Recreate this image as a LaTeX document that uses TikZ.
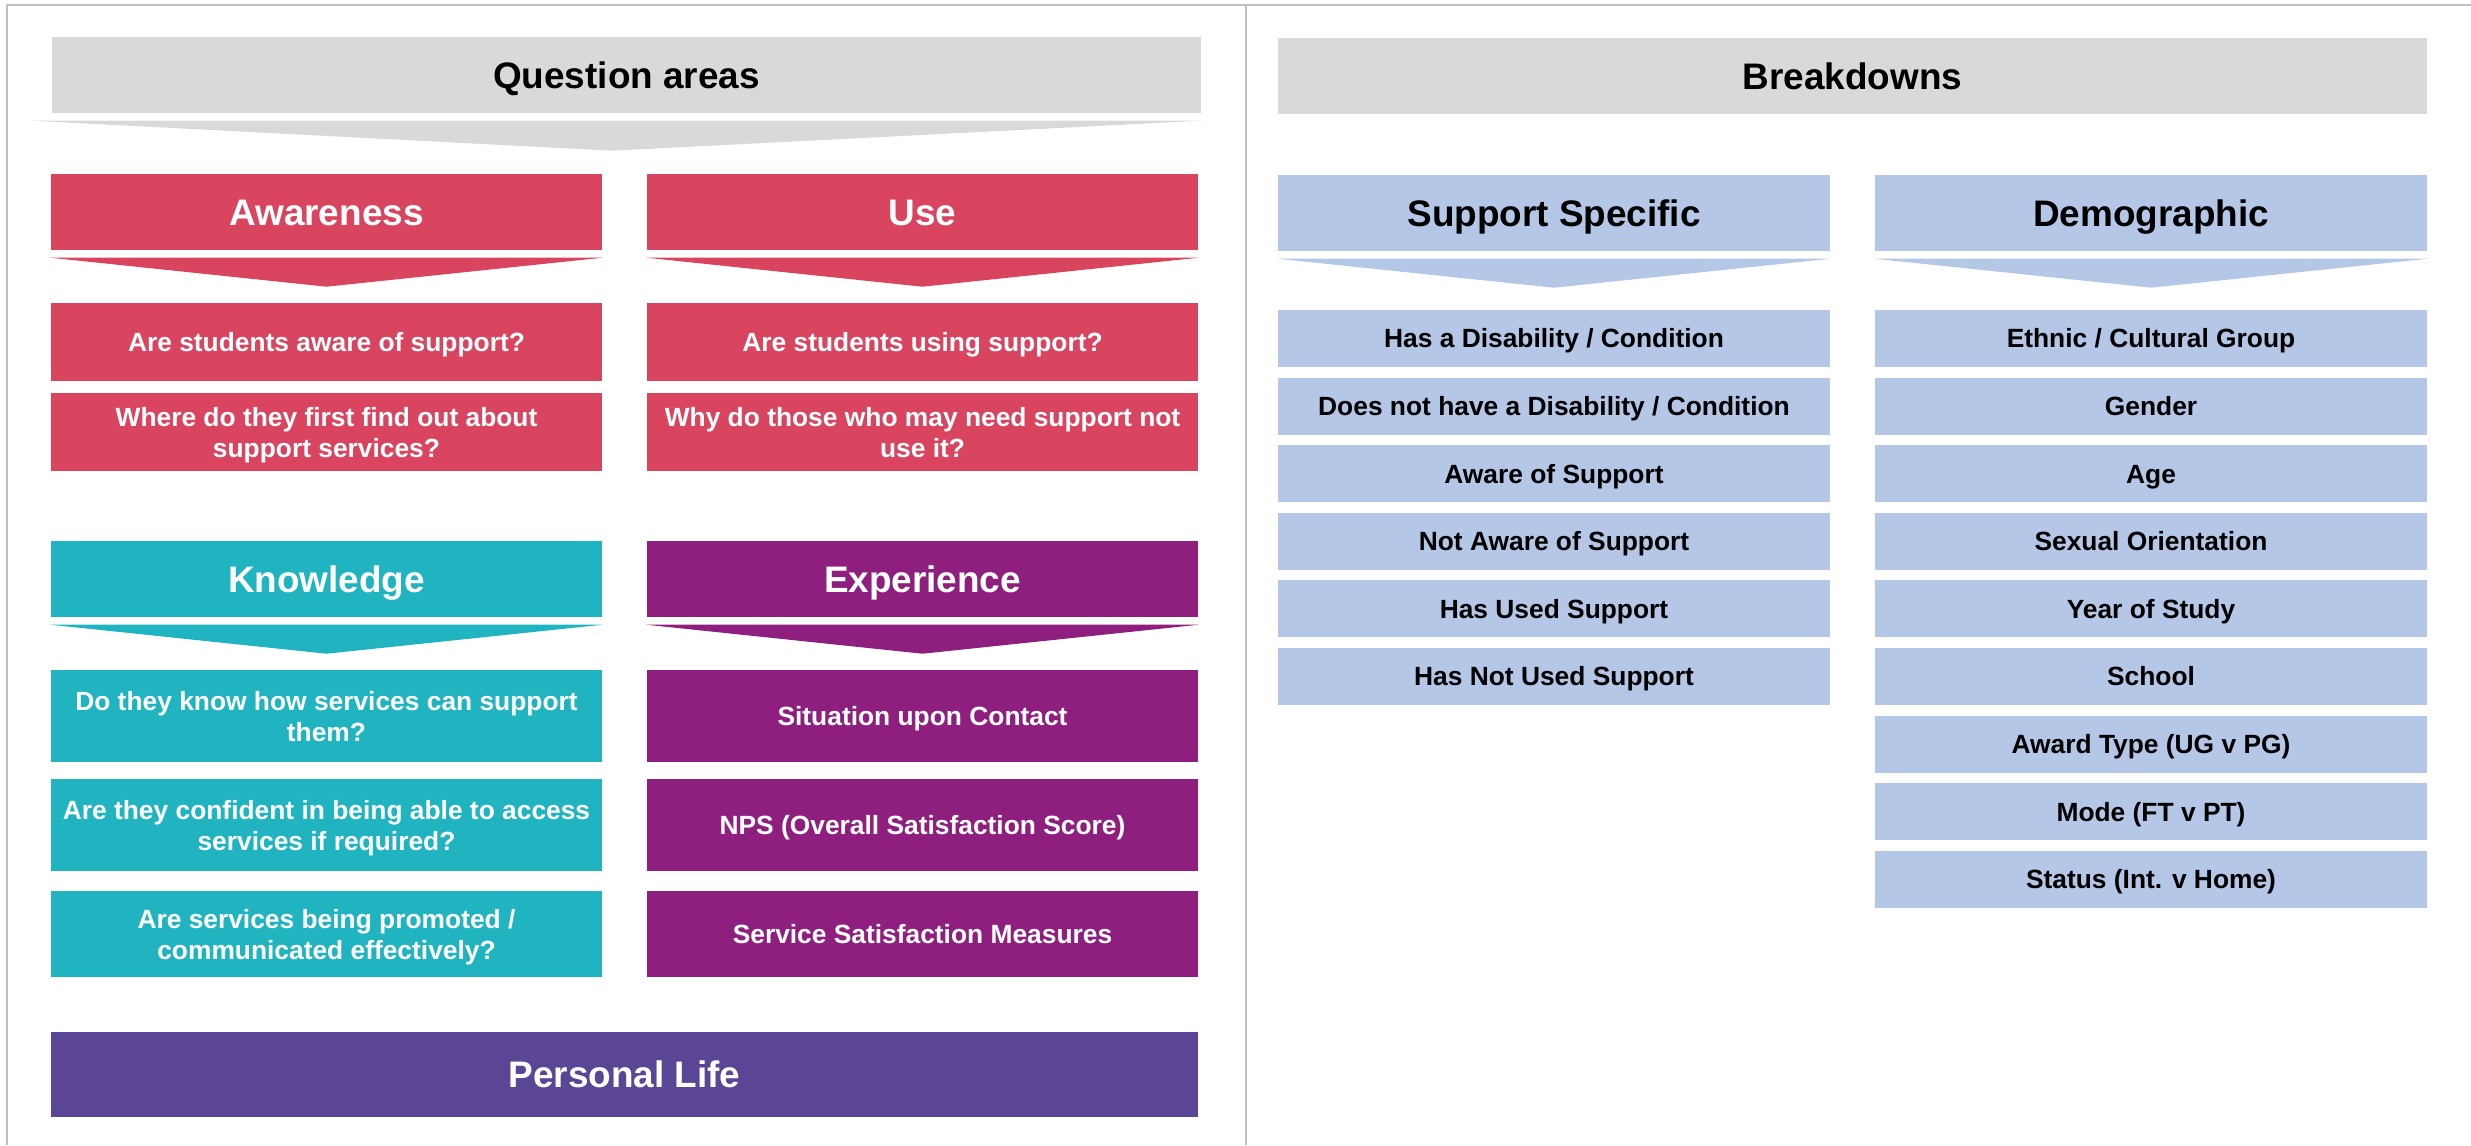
\documentclass[tikz,border=0pt]{standalone}
\usepackage{fontspec}
\setmainfont{Liberation Sans}
\usepackage{tikz}
\usetikzlibrary{
    calc
}
\usepackage{xcolor}
\definecolor{panelgray}{RGB}{217,217,217}
\definecolor{framegray}{RGB}{192,192,192}
\definecolor{awarered}{RGB}{217,68,94}
\definecolor{knowteal}{RGB}{31,180,192}
\definecolor{experpurple}{RGB}{143,31,126}
\definecolor{lifeviolet}{RGB}{91,70,150}
\definecolor{breakblue}{RGB}{180,199,231}
\tikzstyle{titlebar} = [
    rectangle,
    fill=panelgray,
    minimum width=11.49cm,
    minimum height=0.76cm,
    inner sep=0pt,
    text height=9.5pt,
    text depth=2pt,
    font=\fontsize{10.5}{12}\selectfont\bfseries
]
\tikzstyle{areahead} = [
    rectangle,
    minimum width=5.51cm,
    minimum height=0.76cm,
    inner sep=0pt,
    text height=9.5pt,
    text depth=2pt,
    text=white,
    font=\fontsize{10.5}{12}\selectfont\bfseries
]
\tikzstyle{question} = [
    rectangle,
    minimum width=5.51cm,
    inner sep=0pt,
    text depth=0pt,
    text=white,
    align=center,
    font=\fontsize{7.5}{8.8}\selectfont\bfseries
]
\tikzstyle{breakrow} = [
    rectangle,
    fill=breakblue,
    minimum width=5.52cm,
    minimum height=0.57cm,
    inner sep=0pt,
    text height=6.85pt,
    text depth=1.5pt,
    font=\fontsize{7.5}{8.8}\selectfont\bfseries
]

\begin{document}
\begin{tikzpicture}
        \useasboundingbox (0,0) rectangle (24.71,-11.45);

        % Frame and divider
        \draw[framegray, line width=0.6pt] (0.07,-11.45) -- (0.07,-0.05) -- (24.71,-0.05);
        \draw[framegray, line width=0.6pt] (12.46,-0.05) -- (12.46,-11.45);

        % Question areas
        \node[titlebar] (qa) at (6.265,-0.75) {Question areas};
        \fill[panelgray] ($(qa.south west)+(-0.2,-0.07)$) -- ($(qa.south east)+(0,-0.07)$)
            -- ($(qa.south)+(-0.14,-0.37)$) -- cycle;

        \node[areahead, fill=awarered] (aw) at (3.265,-2.12) {Awareness};
        \node[areahead, fill=awarered] (use) at (9.225,-2.12) {Use};
        \node[question, fill=awarered, minimum height=0.78cm] (aw1) at (3.265,-3.42) {Are students aware of support?};
        \node[question, fill=awarered, minimum height=0.78cm] (aw2) at (3.265,-4.32) {Where do they first find out about\\support services?};
        \node[question, fill=awarered, minimum height=0.78cm] (use1) at (9.225,-3.42) {Are students using support?};
        \node[question, fill=awarered, minimum height=0.78cm] (use2) at (9.225,-4.32) {Why do those who may need support not\\use it?};

        \node[areahead, fill=knowteal] (kn) at (3.265,-5.79) {Knowledge};
        \node[areahead, fill=experpurple] (ex) at (9.225,-5.79) {Experience};
        \node[question, fill=knowteal, minimum height=0.92cm] (kn1) at (3.265,-7.16) {Do they know how services can support\\them?};
        \node[question, fill=knowteal, minimum height=0.92cm] (kn2) at (3.265,-8.25) {Are they confident in being able to access\\services if required?};
        \node[question, fill=knowteal, minimum height=0.86cm] (kn3) at (3.265,-9.34) {Are services being promoted /\\communicated effectively?};
        \node[question, fill=experpurple, minimum height=0.92cm] (ex1) at (9.225,-7.16) {Situation upon Contact};
        \node[question, fill=experpurple, minimum height=0.92cm] (ex2) at (9.225,-8.25) {NPS (Overall Satisfaction Score)};
        \node[question, fill=experpurple, minimum height=0.86cm] (ex3) at (9.225,-9.34) {Service Satisfaction Measures};

        \node[areahead, fill=lifeviolet, minimum width=11.47cm, minimum height=0.85cm] (life) at (6.245,-10.745) {Personal Life};

        % Breakdowns
        \node[titlebar] (bd) at (18.525,-0.76) {Breakdowns};
        \node[areahead, fill=breakblue, text=black, minimum width=5.52cm] (ss) at (15.54,-2.13) {Support Specific};
        \node[areahead, fill=breakblue, text=black, minimum width=5.52cm] (dm) at (21.51,-2.13) {Demographic};

        \foreach \txt [count=\i from 0] in {Has a Disability / Condition, Does not have a Disability / Condition,
            Aware of Support, Not Aware of Support, Has Used Support, Has Not Used Support}
            \node[breakrow] (ss\i) at (15.54,{-3.385-0.676*\i}) {\txt};
        \foreach \txt [count=\i from 0] in {Ethnic / Cultural Group, Gender, Age, Sexual Orientation, Year of Study,
            School, Award Type (UG v PG), Mode (FT v PT), Status (Int. v Home)}
            \node[breakrow] (dm\i) at (21.51,{-3.385-0.676*\i}) {\txt};

        % Chevrons under the headings
        \foreach \n/\c in {aw/awarered, use/awarered, kn/knowteal, ex/experpurple, ss/breakblue, dm/breakblue}
            \fill[\c] ($(\n.south west)+(0,-0.07)$) -- ($(\n.south east)+(0,-0.07)$)
                -- ($(\n.south)+(0,-0.36)$) -- cycle;
    \end{tikzpicture}
\end{document}
